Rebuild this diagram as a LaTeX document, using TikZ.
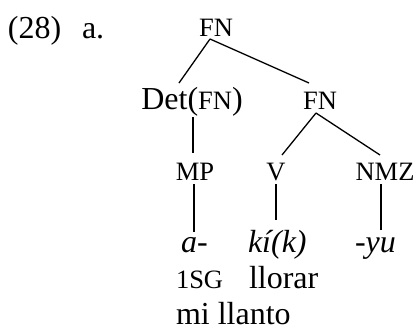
\documentclass[tikz,border=0pt]{standalone}
\usepackage{fontspec}
\setmainfont{Liberation Serif}
\newcommand{\smcp}[1]{{\fontsize{26.5}{32}\selectfont #1}}
\begin{document}
\begin{tikzpicture}[x=1pt,y=-1pt,
  every node/.style={inner sep=0pt, outer sep=0pt, font=\fontsize{32}{38}\selectfont},
  lab/.style={anchor=base},
  txt/.style={anchor=base west},
  sc/.style={font=\fontsize{26.5}{32}\selectfont},
  edge/.style={line width=1.3pt}]
\useasboundingbox (0,0) rectangle (418,327);
% labels
\node[txt] (num) at (8,38) {(28)};
\node[txt] (sub) at (82,38) {a.};
% tree nodes
\node[lab,sc] (fn) at (216,36) {FN};
\node[lab] (det) at (192,109) {Det(\smcp{FN})};
\node[lab,sc] (fn2) at (320,109) {FN};
\node[lab,sc] (mp) at (195,180) {MP};
\node[lab,sc] (v) at (276,180) {V};
\node[lab,sc] (nmz) at (385,180) {NMZ};
% forms
\node[txt] (a) at (181,252) {\itshape a-};
\node[txt] (ki) at (248,252) {\itshape kí(k)};
\node[txt] (yu) at (355,252) {\itshape -yu};
\node[txt] (g1) at (176,288) {\smcp{1SG}};
\node[txt] (g2) at (249,288) {llorar};
\node[txt] (tr) at (176,324) {mi llanto};
% connector end points
\coordinate (fnB) at (210,39);
\coordinate (detT) at (179,83);
\coordinate (fn2T) at (309,83);
\coordinate (detB) at (193,117);
\coordinate (mpT) at (193,153);
\coordinate (fn2B) at (316,113);
\coordinate (vT) at (282,155);
\coordinate (nmzT) at (380,155);
\coordinate (mpB) at (194,184);
\coordinate (aT) at (194,232);
\coordinate (vB) at (276,184);
\coordinate (kiT) at (276,220);
\coordinate (nmzB) at (381,184);
\coordinate (yuT) at (381,230);
\draw[edge] (fnB) -- (detT);
\draw[edge] (fnB) -- (fn2T);
\draw[edge] (detB) -- (mpT);
\draw[edge] (fn2B) -- (vT);
\draw[edge] (fn2B) -- (nmzT);
\draw[edge] (mpB) -- (aT);
\draw[edge] (vB) -- (kiT);
\draw[edge] (nmzB) -- (yuT);
\end{tikzpicture}
\end{document}
